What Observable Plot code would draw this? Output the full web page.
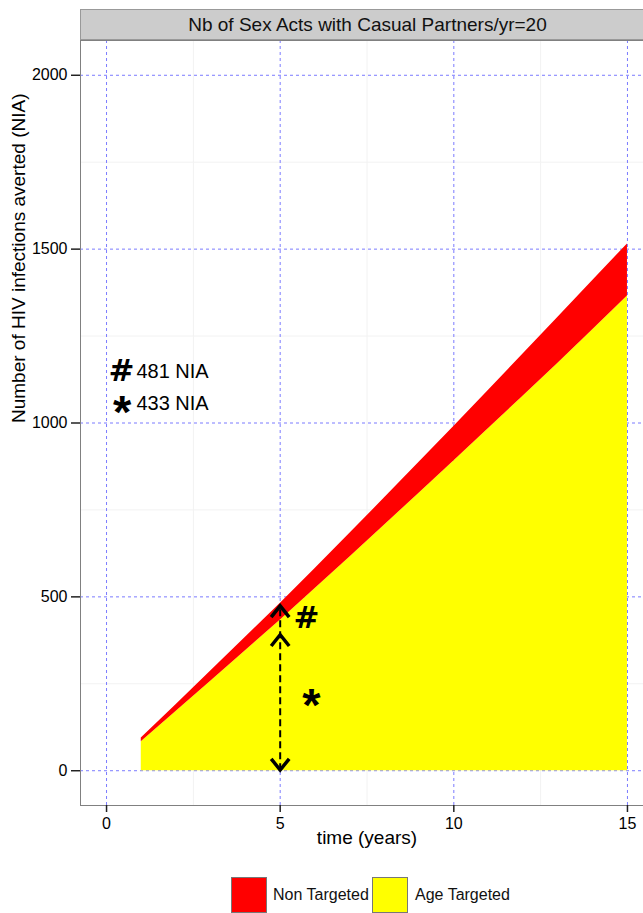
<!DOCTYPE html>
<html><head><meta charset="utf-8">
<script src="https://cdn.jsdelivr.net/npm/d3@7"></script>
<script src="https://cdn.jsdelivr.net/npm/@observablehq/plot@0.6"></script>
<style>
body{margin:0;background:#fff;font-family:"Liberation Sans",Arial,sans-serif;}
#wrap{position:relative;width:643px;height:913px;overflow:hidden;background:#fff;}
#chart{position:absolute;left:0;top:0;}
#strip{position:absolute;left:80px;top:9px;width:600px;height:31px;background:#cccccc;border:1px solid #999;box-sizing:border-box;}
#strip span{position:absolute;left:0;width:573px;text-align:center;top:0;line-height:29px;font-size:19px;color:#111;}
#legend{position:absolute;left:0;top:877px;width:643px;height:40px;}
.key{position:absolute;top:0;width:36px;height:36px;box-sizing:border-box;border:1px solid #777;}
.lab{position:absolute;top:0;line-height:36px;font-size:16px;color:#111;}
</style></head>
<body>
<div id="wrap">
  <div id="chart"></div>
  <div id="strip"><span id="stripText"></span></div>
  <div id="legend"></div>
</div>
<script>
// ---- data ----
const stripTitle = "Nb of Sex Acts with Casual Partners/yr=20";
const years       = [1, 2, 3, 4, 5, 6, 7, 8, 9, 10, 11, 12, 13, 14, 15];
const nonTargeted = [94, 190, 287, 384, 481, 581, 682, 784, 887, 990, 1094, 1199, 1304, 1410, 1515];
const ageTargeted = [83, 170, 257, 345, 433, 523, 614, 706, 798, 891, 984, 1078, 1172, 1268, 1365];
const xTicks = [0, 5, 10, 15];
const yTicks = [0, 500, 1000, 1500, 2000];
const xMinor = [2.5, 7.5, 12.5];
const yMinor = [250, 750, 1250, 1750];
const seriesNames = ["Non Targeted", "Age Targeted"];
const seriesColors = ["#ff0000", "#ffff00"];
const noteSymbols = ["#", "*"];
const noteLabels = ["481 NIA", "433 NIA"];
const noteY = [1149, 1057];
const arrowX = 5;
const arrowTop = 474;
const chevrons = [{y: 474, rot: 0}, {y: 391, rot: 0}, {y: 2, rot: 180}];
const markSymbols = [{s: "#", x: 5.76, y: 440}, {s: "*", x: 5.9, y: 215}];

document.getElementById("stripText").textContent = stripTitle;

const rows = years.map((t, i) => ({t, nt: nonTargeted[i], at: ageTargeted[i]}));
const notes = noteSymbols.map((s, i) => ({s, label: noteLabels[i], y: noteY[i]}));

const chevron = {
  draw(ctx, size) {
    const r = Math.sqrt(size / Math.PI);
    ctx.moveTo(-r, r * 1.25);
    ctx.lineTo(0, 0);
    ctx.lineTo(r, r * 1.25);
  }
};

const plot = Plot.plot({
  width: 643,
  height: 860,
  marginLeft: 80,
  marginRight: -10,
  marginTop: 40,
  marginBottom: 55,
  style: {fontFamily: "Liberation Sans, Arial, sans-serif", fontSize: "16px", overflow: "hidden", background: "transparent", color: "#000"},
  x: {domain: [-0.75, 15.75]},
  y: {domain: [-100, 2100]},
  marks: [
    Plot.ruleX(xMinor, {stroke: "#f2f2f2", strokeWidth: 1}),
    Plot.ruleY(yMinor, {stroke: "#f2f2f2", strokeWidth: 1}),
    Plot.ruleX(xTicks, {stroke: "#7b7bff", strokeWidth: 1, strokeDasharray: "3,3"}),
    Plot.ruleY(yTicks, {stroke: "#7b7bff", strokeWidth: 1, strokeDasharray: "3,3"}),
    Plot.areaY(rows, {x: "t", y1: 0, y2: "at", fill: seriesColors[1], curve: "linear"}),
    Plot.areaY(rows, {x: "t", y1: "at", y2: "nt", fill: seriesColors[0], curve: "linear"}),
    Plot.frame({stroke: "#808080", strokeWidth: 1}),
    Plot.ruleX([arrowX], {y1: 0, y2: arrowTop, stroke: "#000", strokeWidth: 2, strokeDasharray: "7,4"}),
    Plot.dot(chevrons, {x: () => arrowX, y: "y", rotate: "rot", symbol: chevron, r: 9, fill: "none", stroke: "#000", strokeWidth: 3.5, strokeLinejoin: "miter", strokeLinecap: "butt"}),
    Plot.text(markSymbols.filter(d => d.s === "#"), {x: "x", y: "y", text: "s", fontSize: 31, fontWeight: "bold", fontFamily: "DejaVu Sans", fill: "#000"}),
    Plot.text(markSymbols.filter(d => d.s === "*"), {x: "x", y: "y", text: "s", fontSize: 47, fontWeight: "bold", dy: 10, fill: "#000"}),
    Plot.text(notes.filter(d => d.s === "#"), {x: () => 0.43, y: "y", text: "s", fontSize: 31, fontWeight: "bold", fontFamily: "DejaVu Sans", fill: "#000"}),
    Plot.text(notes.filter(d => d.s === "*"), {x: () => 0.45, y: "y", text: "s", fontSize: 47, fontWeight: "bold", dy: 10, fill: "#000"}),
    Plot.text(notes, {x: () => 0.86, y: "y", text: "label", textAnchor: "start", fontSize: 20, fill: "#000"}),
    Plot.axisY(yTicks, {tickSize: 9, tickPadding: 4, strokeWidth: 1.5, stroke: "#222", fontSize: 16, fill: "#000", label: null, tickFormat: d => String(d)}),
    Plot.axisX(xTicks, {tickSize: 7, tickPadding: 5, strokeWidth: 1.5, stroke: "#222", fontSize: 16, fill: "#000", label: null, tickFormat: d => String(d)}),
    Plot.text(["time (years)"], {frameAnchor: "bottom", dx: 0, dy: 38, fontSize: 19, fill: "#000"}),
    Plot.text(["Number of HIV infections averted (NIA)"], {frameAnchor: "left", dx: -62, rotate: -90, fontSize: 19, fill: "#000"})
  ]
});
document.getElementById("chart").appendChild(plot);

// legend
const legend = document.getElementById("legend");
const keyLeft = [231, 372];
const labLeft = [273, 415];
seriesNames.forEach((name, i) => {
  const k = document.createElement("div");
  k.className = "key"; k.style.left = keyLeft[i] + "px"; k.style.background = seriesColors[i];
  legend.appendChild(k);
  const l = document.createElement("div");
  l.className = "lab"; l.style.left = labLeft[i] + "px"; l.textContent = name;
  legend.appendChild(l);
});
</script>
</body></html>
